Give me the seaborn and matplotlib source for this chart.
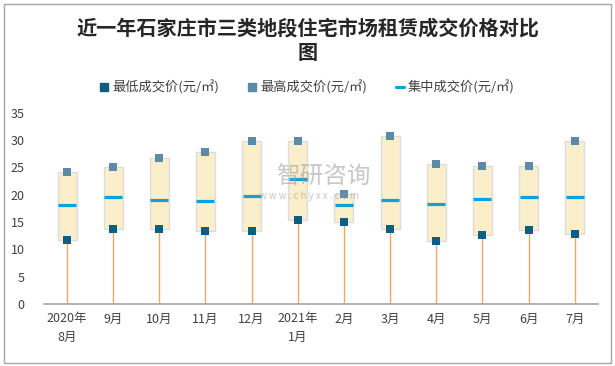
import numpy as np
import pandas as pd
import matplotlib
matplotlib.use("Agg")
import matplotlib.pyplot as plt
from matplotlib.lines import Line2D
from matplotlib.patches import Rectangle
import seaborn as sns

# data
months = ["2020年\n8月", "9月", "10月", "11月", "12月", "2021年\n1月",
          "2月", "3月", "4月", "5月", "6月", "7月"]
low_price = [11.7, 13.8, 13.7, 13.3, 13.3, 15.3, 15.1, 13.8, 11.6, 12.6, 13.5, 12.8]
high_price = [24.1, 25.0, 26.8, 27.9, 29.9, 29.8, 20.2, 30.7, 25.6, 25.2, 25.2, 29.8]
mid_price = [18.2, 19.5, 19.0, 18.8, 19.7, 22.8, 18.1, 19.0, 18.4, 19.3, 19.5, 19.5]

sns.set_theme(style="white")
plt.rcParams['font.family'] = ['Noto Sans CJK SC', 'DejaVu Sans']

df = pd.DataFrame({"pos": np.arange(len(months)), "low": low_price,
                   "high": high_price, "mid": mid_price})

fig = plt.figure(figsize=(6.15, 3.66), dpi=100)
ax = fig.add_axes([0.0715, 0.169, 0.9005, 0.523])

# range boxes and stems
ax.vlines(df["pos"], 0, df["low"], color="#F0A868", lw=1, zorder=1)
ax.bar(df["pos"], df["high"] - df["low"], bottom=df["low"], width=0.41,
       color="#FBEECB", edgecolor="#DCDCDC", linewidth=1, zorder=2)

sns.scatterplot(data=df, x="pos", y="low", marker="s", s=28, color="#0E5E84",
                linewidth=0, ax=ax, zorder=4)
sns.scatterplot(data=df, x="pos", y="high", marker="s", s=28, color="#5B8BA6",
                linewidth=0, ax=ax, zorder=4)
sns.scatterplot(data=df, x="pos", y="mid", marker="_", s=150, color="#12A0DB",
                linewidth=2.3, ax=ax, zorder=5)

ax.set_xlim(-0.5, len(months) - 0.5)
ax.set_ylim(0, 35)
ax.set_yticks(range(0, 36, 5))
ax.set_xticks(df["pos"])
ax.set_xticklabels(months, fontsize=9, color="#404040", linespacing=1.5)
ax.tick_params(axis="y", labelsize=9, labelcolor="#404040", pad=14, length=0)
ax.tick_params(axis="x", pad=6, length=0)
ax.set_xlabel("")
ax.set_ylabel("")
for s in ["left", "right", "top"]:
    ax.spines[s].set_visible(False)
ax.spines["bottom"].set_color("#A6A6A6")
ax.spines["bottom"].set_linewidth(1.2)
ax.patch.set_alpha(0)

# title
fig.text(0.5, 0.89, "近一年石家庄市三类地段住宅市场租赁成交价格对比\n图",
         ha="center", va="center", fontsize=14.5, fontweight="bold",
         color="#262626", linespacing=1.25)

# legend
handles = [
    Line2D([], [], marker="s", ls="none", color="#0E5E84", markersize=5.5),
    Line2D([], [], marker="s", ls="none", color="#5B8BA6", markersize=5.5),
    Line2D([], [], color="#12A0DB", lw=2.3),
]
labels = ["最低成交价(元/㎡)", "最高成交价(元/㎡)", "集中成交价(元/㎡)"]
fig.legend(handles, labels, loc="center", bbox_to_anchor=(0.5, 0.762), ncol=3,
           frameon=False, fontsize=9.5, handlelength=0.6, handletextpad=0.3,
           columnspacing=2.2, labelcolor="#404040")

# watermark
fig.text(0.525, 0.514, "智研咨询", ha="center", va="center", fontsize=17,
         color="#9A9A9A", alpha=0.55)
fig.text(0.503, 0.464, "w w w . c h y x x . c o m", ha="center", va="center",
         fontsize=7, color="#9A9A9A", alpha=0.55)

# outer frame
fig.patches.append(Rectangle((0.006, 0.008), 0.988, 0.982, transform=fig.transFigure,
                             fill=False, edgecolor="#A6A6A6", linewidth=1))

fig.savefig("out.png", dpi=100)
